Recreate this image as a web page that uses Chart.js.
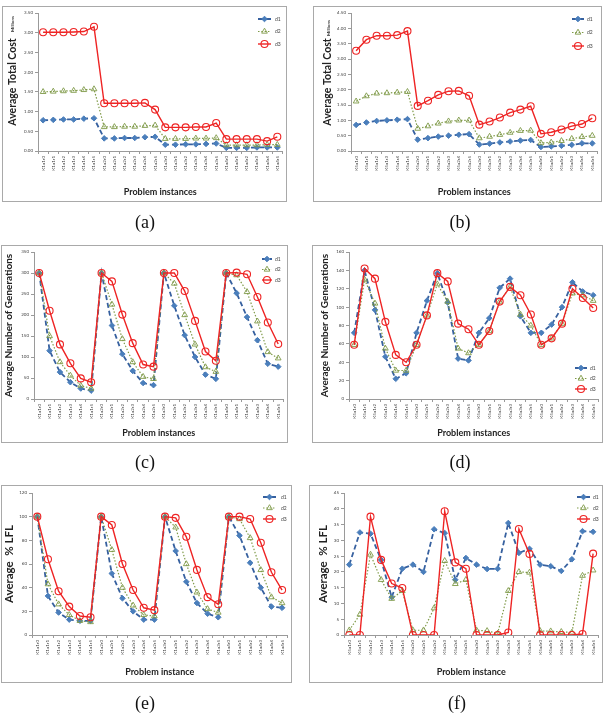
<!DOCTYPE html>
<html><head><meta charset="utf-8">
<script src="https://cdn.jsdelivr.net/npm/chart.js@4.4.1/dist/chart.umd.min.js"></script>
<style>
body{margin:0;width:603px;height:720px;background:#fff;position:relative;overflow:hidden;}
.box{position:absolute;border:1px solid #a9a9a9;box-sizing:border-box;pointer-events:none;}
canvas{position:absolute;}
.cap{position:absolute;font-family:'Liberation Serif','DejaVu Serif',serif;font-size:18px;transform:translate(-50%,-50%);color:#111;white-space:nowrap;}
</style></head><body>
<script>
// ---------- categories ----------
const labelsK1 = ['K1a1r0','K1a1r1','K1a1r2','K1a1r3','K1a1r4','K1a1r5',
                  'K1a2r0','K1a2r1','K1a2r2','K1a2r3','K1a2r4','K1a2r5',
                  'K1a3r0','K1a3r1','K1a3r2','K1a3r3','K1a3r4','K1a3r5',
                  'K1a4r0','K1a4r1','K1a4r2','K1a4r3','K1a4r4','K1a4r5'];
const labelsK5 = ['K5a1r0','K5a1r1','K5a1r2','K5a1r3','K5a1r4','K5a1r5',
                  'K5a2r0','K5a2r1','K5a2r2','K5a2r3','K5a2r4','K5a2r5',
                  'K5a3r0','K5a3r1','K5a3r2','K5a3r3','K5a3r4','K5a3r5',
                  'K5a4r0','K5a4r1','K5a4r2','K5a4r3','K5a4r4','K5a4r5'];
const seriesNames = ['d1','d2','d3'];

// ---------- (a) Average Total Cost, K1 (millions) ----------
const aD1 = [0.78,0.79,0.80,0.80,0.82,0.83, 0.32,0.32,0.33,0.33,0.35,0.36, 0.16,0.16,0.17,0.17,0.18,0.19, 0.08,0.08,0.08,0.09,0.09,0.09];
const aD2 = [1.50,1.51,1.52,1.53,1.55,1.57, 0.61,0.61,0.62,0.62,0.64,0.65, 0.31,0.31,0.31,0.32,0.32,0.33, 0.15,0.15,0.15,0.15,0.16,0.16];
const aD3 = [3.01,3.01,3.01,3.02,3.03,3.15, 1.21,1.21,1.21,1.21,1.22,1.05, 0.60,0.60,0.60,0.61,0.61,0.71, 0.30,0.30,0.30,0.30,0.25,0.36];
// ---------- (b) Average Total Cost, K5 (millions) ----------
const bD1 = [0.85,0.93,0.98,1.00,1.02,1.04, 0.37,0.42,0.47,0.50,0.53,0.55, 0.21,0.24,0.28,0.31,0.34,0.36, 0.13,0.15,0.17,0.20,0.25,0.25];
const bD2 = [1.62,1.79,1.88,1.89,1.91,1.93, 0.73,0.81,0.90,0.97,1.00,1.00, 0.42,0.47,0.53,0.60,0.66,0.67, 0.26,0.28,0.33,0.40,0.46,0.50];
const bD3 = [3.27,3.63,3.76,3.76,3.78,3.91, 1.47,1.64,1.83,1.95,1.96,1.80, 0.86,0.96,1.09,1.25,1.35,1.46, 0.56,0.61,0.70,0.81,0.88,1.07];
// ---------- (c) Average Number of Generations, K1 ----------
const cD1 = [300,115,64,40,25,20, 300,175,107,67,38,33, 300,222,152,100,58,48, 300,252,195,140,84,77];
const cD2 = [300,150,88,56,32,25, 300,225,143,88,53,48, 300,275,200,130,76,65, 300,295,255,185,112,97];
const cD3 = [300,210,130,85,49,40, 300,280,201,133,82,77, 300,300,257,186,113,91, 300,301,297,243,182,131];
// ---------- (d) Average Number of Generations, K5 ----------
const dD1 = [72,140,97,46,22,28, 72,107,137,105,44,42, 72,88,121,131,90,72, 72,81,100,127,117,113];
const dD2 = [59,130,104,55,31,31, 59,91,125,106,55,50, 59,74,106,122,92,80, 59,66,82,115,113,107];
const dD3 = [59,142,131,84,48,40, 59,91,137,128,82,76, 59,74,106,122,113,92, 59,66,82,120,110,99];
// ---------- (e) Average % LFL, K1 ----------
const eD1 = [100,33,19,13,12,12, 100,52,31,20,13,13, 100,71,45,27,18,15, 100,84,61,40,24,23];
const eD2 = [100,43,26,17,12,11, 100,72,40,25,17,16, 100,91,60,36,22,19, 100,98,82,55,32,27];
const eD3 = [100,64,37,24,16,15, 100,93,60,38,23,21, 100,99,83,55,32,26, 100,100,98,78,53,38];
// ---------- (f) Average % LFL, K5 ----------
const fD1 = [22.3,32.5,32.1,23.8,12.0,21.0, 22.3,20.0,33.5,32.3,17.5,24.4, 22.3,20.9,21.0,35.5,26.0,27.3, 22.3,21.8,20.3,24.0,32.9,32.7];
const fD2 = [1.5,6.5,25.5,17.5,11.5,14.0, 1.5,1.5,8.5,23.5,16.2,17.5, 1.5,1.3,0.5,14.0,20.0,19.8, 1.3,1.2,1.0,0.8,18.8,20.5];
const fD3 = [0,0,37.5,23.8,16.3,14.9, 0,0,0,39.2,23.0,21.0, 0,0,0,0.8,33.6,25.7, 0,0,0,0,0.3,25.8];

// ---------- layout / styles ----------
const FONT = 'Lato, "Liberation Sans", sans-serif';
const styles = [
  {borderColor:'#36609f', pointBackgroundColor:'#4a7ebb', pointBorderColor:'#4a7ebb', pointStyle:'rectRot', pointRadius:2.8, pointBorderWidth:1, borderWidth:1.8, borderDash:[5,3], order:3},
  {borderColor:'#7f9a48', pointBackgroundColor:'rgba(255,255,255,0)', pointBorderColor:'#7f9a48', pointStyle:'triangle', pointRadius:3.3, pointBorderWidth:0.9, borderWidth:1.2, borderDash:[1.5,1.8], order:2},
  {borderColor:'#ee2424', pointBackgroundColor:'rgba(255,255,255,0)', pointBorderColor:'#ee2424', pointStyle:'circle', pointRadius:3.5, pointBorderWidth:1.1, borderWidth:1.4, borderDash:[], order:1}
];

const panels = [
  {box:[2,6,285,196], yW:36, top:7, right:4, xH:51, yMax:3.5, step:0.5, dec:2, yTitle:'Average Total Cost', ySize:10.5, xTitle:'Problem instances', labels:labelsK1, data:[aD1,aD2,aD3], legend:{x:256,y:13,w:13,gap:12.5,tx:273}, millions:[11,18], cap:['(a)',145,222], yPad:4, xPad:5},
  {box:[313,6,289,196], yW:38, top:7, right:4, xH:51, yMax:4.5, step:0.5, dec:2, yTitle:'Average Total Cost', ySize:10.5, xTitle:'Problem instances', labels:labelsK5, data:[bD1,bD2,bD3], legend:{x:259,y:13,w:12,gap:13.5,tx:274}, millions:[16,22], cap:['(b)',460,222], yPad:8, xPad:5},
  {box:[1,245,287,198], yW:33, top:7, right:1, xH:44, yMax:350, step:50, dec:0, yTitle:'Average Number of Generations', ySize:10, xTitle:'Problem instances', labels:labelsK1, data:[cD1,cD2,cD3], legend:{x:261,y:14,w:10,gap:10.5,tx:274}, millions:null, cap:['(c)',145,462], yPad:2, xPad:5},
  {box:[312,245,291,198], yW:37, top:7, right:2, xH:44, yMax:160, step:20, dec:0, yTitle:'Average Number of Generations', ySize:10, xTitle:'Problem instances', labels:labelsK5, data:[dD1,dD2,dD3], legend:{x:263,y:123,w:12,gap:10.5,tx:278}, millions:null, cap:['(d)',460,462], yPad:7, xPad:5},
  {box:[1,485,291,198], yW:31, top:8, right:2, xH:48, yMax:120, step:20, dec:0, yTitle:'Average  % LFL', ySize:11.5, xTitle:'Problem instance', labels:labelsK1, data:[eD1,eD2,eD3], legend:{x:262,y:12,w:13,gap:11,tx:280}, millions:null, cap:['(e)',145,703], yPad:1, xPad:6},
  {box:[309,485,294,198], yW:35, top:8, right:1, xH:48, yMax:45, step:5, dec:0, yTitle:'Average  % LFL', ySize:11.5, xTitle:'Problem instance', labels:labelsK5, data:[fD1,fD2,fD3], legend:{x:268,y:12,w:13,gap:11,tx:284}, millions:null, cap:['(f)',457,703], yPad:7, xPad:6}
];

const extras = {
  id:'extras',
  afterDraw(chart, args, opts){
    const ctx = chart.ctx;
    const lg = opts.legend;
    ctx.save();
    chart.data.datasets.forEach((ds,i)=>{
      const y = lg.y + i*lg.gap;
      ctx.strokeStyle = ds.borderColor; ctx.lineWidth = ds.borderWidth;
      ctx.setLineDash(ds.borderDash || []);
      ctx.beginPath(); ctx.moveTo(lg.x, y); ctx.lineTo(lg.x+lg.w, y); ctx.stroke();
      ctx.setLineDash([]);
      ctx.fillStyle = ds.pointBackgroundColor; ctx.strokeStyle = ds.pointBorderColor; ctx.lineWidth = ds.pointBorderWidth;
      Chart.helpers.drawPoint(ctx, {pointStyle:ds.pointStyle, radius:ds.pointRadius, borderWidth:ds.pointBorderWidth, rotation:0}, lg.x+lg.w/2, y);
      ctx.fillStyle = '#444'; ctx.font = '5px ' + FONT; ctx.textBaseline = 'middle'; ctx.textAlign = 'left';
      ctx.fillText(ds.label, lg.tx, y);
    });
    if (opts.millions){
      ctx.translate(opts.millions[0], opts.millions[1]);
      ctx.rotate(-Math.PI/2);
      ctx.fillStyle = '#333'; ctx.font = 'bold 4.5px ' + FONT; ctx.textAlign = 'center'; ctx.textBaseline = 'middle';
      ctx.fillText('Millions', 0, 0);
    }
    ctx.restore();
  }
};

panels.forEach(p=>{
  const [bx,by,bw,bh] = p.box;
  const cv = document.createElement('canvas');
  cv.width = bw; cv.height = bh;
  cv.style.left = bx+'px'; cv.style.top = by+'px'; cv.style.width = bw+'px'; cv.style.height = bh+'px';
  document.body.appendChild(cv);
  const bd = document.createElement('div');
  bd.className = 'box';
  bd.style.left = bx+'px'; bd.style.top = by+'px'; bd.style.width = bw+'px'; bd.style.height = bh+'px';
  document.body.appendChild(bd);
  const cap = document.createElement('div');
  cap.className = 'cap'; cap.textContent = p.cap[0];
  cap.style.left = p.cap[1]+'px'; cap.style.top = p.cap[2]+'px';
  document.body.appendChild(cap);

  const datasets = p.data.map((vals,i)=>Object.assign({label:seriesNames[i], data:vals, tension:0, fill:false, pointHoverRadius:0}, styles[i]));
  new Chart(cv, {
    type:'line',
    data:{labels:p.labels, datasets},
    options:{
      responsive:false, animation:false, devicePixelRatio:1, events:[],
      layout:{padding:{top:p.top, right:p.right, left:0, bottom:0}},
      plugins:{legend:{display:false}, tooltip:{enabled:false},
        extras:{legend:p.legend, millions:p.millions}},
      scales:{
        x:{type:'category', offset:true,
          grid:{display:true, drawOnChartArea:false, tickLength:3, color:'#9a9a9a', offset:true},
          border:{color:'#9a9a9a'},
          ticks:{font:{size:4.5, family:FONT}, color:'#444', minRotation:90, maxRotation:90, padding:2, autoSkip:false},
          title:{display:true, text:p.xTitle, color:'#222', font:{size:9, weight:'bold', family:FONT}, padding:{top:0, bottom:p.xPad}},
          afterFit(s){ s.height = p.xH; }
        },
        y:{min:0, max:p.yMax,
          grid:{display:true, drawOnChartArea:false, tickLength:3, color:'#9a9a9a'},
          border:{color:'#9a9a9a'},
          ticks:{stepSize:p.step, font:{size:4.5, family:FONT}, color:'#444', padding:2, callback:v=>Number(v).toFixed(p.dec)},
          title:{display:true, text:p.yTitle, color:'#222', font:{size:p.ySize, weight:'bold', family:FONT}, padding:{top:p.yPad, bottom:0}},
          afterFit(s){ s.width = p.yW; }
        }
      }
    },
    plugins:[extras]
  });
});
</script>
</body></html>
